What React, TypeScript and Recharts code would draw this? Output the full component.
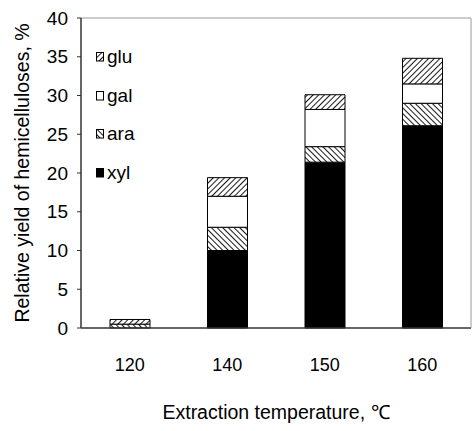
import { BarChart, Bar, XAxis, YAxis, Label } from 'recharts';

// extraction temperatures, °C
const temperatures = ['120', '140', '150', '160'];

// relative yield of each sugar, %
const xyl = [0, 10, 21.4, 26.1];
const ara = [0.5, 3, 2, 2.9];
const gal = [0, 4, 4.8, 2.5];
const glu = [0.6, 2.4, 1.9, 3.3];

const yTicks = [0, 5, 10, 15, 20, 25, 30, 35, 40];

const chartData = temperatures.map((t, i) => ({
  temp: t,
  xyl: xyl[i],
  ara: ara[i],
  gal: gal[i],
  glu: glu[i],
}));

const legendItems = [
  { key: 'glu', fill: 'url(#lgGlu)' },
  { key: 'gal', fill: '#fff' },
  { key: 'ara', fill: 'url(#lgAra)' },
  { key: 'xyl', fill: '#000' },
];

const font = 'Arial, "Liberation Sans", sans-serif';

function HatchDefs({ prefix }: { prefix: string }) {
  return (
    <defs>
      <pattern id={`${prefix}Glu`} width="4" height="4" patternUnits="userSpaceOnUse" patternTransform="rotate(45)">
        <rect width="4" height="4" fill="#fff" />
        <line x1="0" y1="0" x2="0" y2="4" stroke="#000" strokeWidth="1.8" />
      </pattern>
      <pattern id={`${prefix}Ara`} width="4" height="4" patternUnits="userSpaceOnUse" patternTransform="rotate(-45)">
        <rect width="4" height="4" fill="#fff" />
        <line x1="0" y1="0" x2="0" y2="4" stroke="#000" strokeWidth="1.8" />
      </pattern>
    </defs>
  );
}

// legend sits inside the plot, so it is drawn as an overlay and not through <Legend>
function LegendBox() {
  return (
    <div style={{ position: 'absolute', left: 96, top: 38, fontFamily: font, fontSize: 19, color: '#000' }}>
      <svg width="0" height="0" style={{ position: 'absolute' }}>
        <HatchDefs prefix="lg" />
      </svg>
      {legendItems.map((item) => (
        <div key={item.key} style={{ display: 'flex', alignItems: 'center', height: 38.5 }}>
          <svg width="9" height="10" style={{ marginRight: 2 }}>
            <rect x="0.5" y="0.5" width="7" height="8.5" fill={item.fill} stroke="#000" strokeWidth="1" />
          </svg>
          <span>{item.key}</span>
        </div>
      ))}
    </div>
  );
}

export default function App() {
  return (
    <div style={{ position: 'absolute', left: 0, top: 0, width: 472, height: 431, background: '#fff' }}>
      <BarChart
        width={472}
        height={431}
        data={chartData}
        margin={{ top: 17, right: 0, left: 0, bottom: 0 }}
        barSize={40}
      >
        <HatchDefs prefix="bar" />
        <XAxis
          dataKey="temp"
          height={103}
          tickLine={false}
          tickSize={0}
          tickMargin={30}
          axisLine={{ stroke: '#333', strokeWidth: 1.5 }}
          tick={{ fontSize: 18, fill: '#000', fontFamily: font }}
        >
          <Label
            value="Extraction temperature, ℃"
            position="insideBottom"
            offset={12}
            style={{ fontSize: 19.5, fill: '#000', fontFamily: font }}
          />
        </XAxis>
        <XAxis
          xAxisId="top"
          dataKey="temp"
          orientation="top"
          height={1}
          tick={false}
          tickLine={false}
          axisLine={{ stroke: '#999' }}
        />
        <YAxis
          domain={[0, 40]}
          ticks={yTicks}
          interval={0}
          width={81}
          tickSize={4}
          tickMargin={9}
          axisLine={{ stroke: '#333', strokeWidth: 1.5 }}
          tickLine={{ stroke: '#333' }}
          tick={{ fontSize: 19, fill: '#000', fontFamily: font }}
        >
          <Label
            value="Relative yield of hemicelluloses, %"
            angle={-90}
            position="insideLeft"
            offset={22}
            style={{ fontSize: 19.5, fill: '#000', fontFamily: font, textAnchor: 'middle' }}
          />
        </YAxis>
        <YAxis
          yAxisId="right"
          orientation="right"
          width={1}
          domain={[0, 40]}
          tick={false}
          tickLine={false}
          axisLine={{ stroke: '#999' }}
        />
        <Bar dataKey="xyl" stackId="s" fill="#000" stroke="#000" isAnimationActive={false} />
        <Bar dataKey="ara" stackId="s" fill="url(#barAra)" stroke="#000" isAnimationActive={false} />
        <Bar dataKey="gal" stackId="s" fill="#fff" stroke="#000" isAnimationActive={false} />
        <Bar dataKey="glu" stackId="s" fill="url(#barGlu)" stroke="#000" isAnimationActive={false} />
      </BarChart>
      <LegendBox />
    </div>
  );
}
